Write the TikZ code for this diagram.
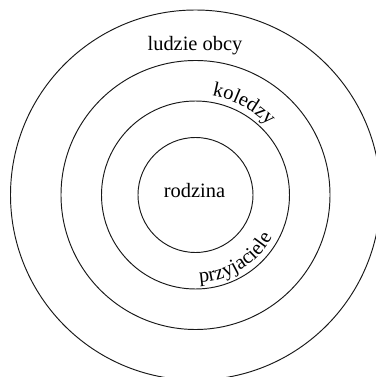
\documentclass[tikz,border=0pt]{standalone}
\usepackage{fontspec}
\setmainfont{Liberation Serif}
\newfontfamily\tnr{Liberation Serif}
\usetikzlibrary{decorations.text,calc}
\tikzset{
  ring/.style={draw=black!90, line width=0.95bp},
  lbl/.style={font=\tnr\fontsize{20.5}{24}\selectfont, inner sep=0pt, anchor=base},
}
\begin{document}
\begin{tikzpicture}[x=1bp,y=1bp]
\useasboundingbox (0,0) rectangle (376,377);
\clip (0,0) rectangle (376,377);
\coordinate (C) at (195.5,182);
\draw[ring] (C) circle[radius=57.5];
\draw[ring] (C) circle[radius=94];
\draw[ring] (C) circle[radius=134.5];
\draw[ring] (C) circle[radius=185];
\node[lbl] (obcy) at (195,327) {ludzie obcy};
\node[lbl] (rodzina) at (194.5,180) {rodzina};
\path[decorate, decoration={text along path, text align=center,
  text={|\tnr\fontsize{20.5}{24}\selectfont|koledzy}}]
  ($(C)+(102:100.5)$) arc[start angle=102, end angle=22, radius=100.5];
\path[decorate, decoration={text along path, text align=center,
  text={|\tnr\fontsize{20.5}{24}\selectfont|przyjaciele}}]
  ($(C)+(-98:87.5)$) arc[start angle=-98, end angle=-18, radius=87.5];
\end{tikzpicture}
\end{document}
